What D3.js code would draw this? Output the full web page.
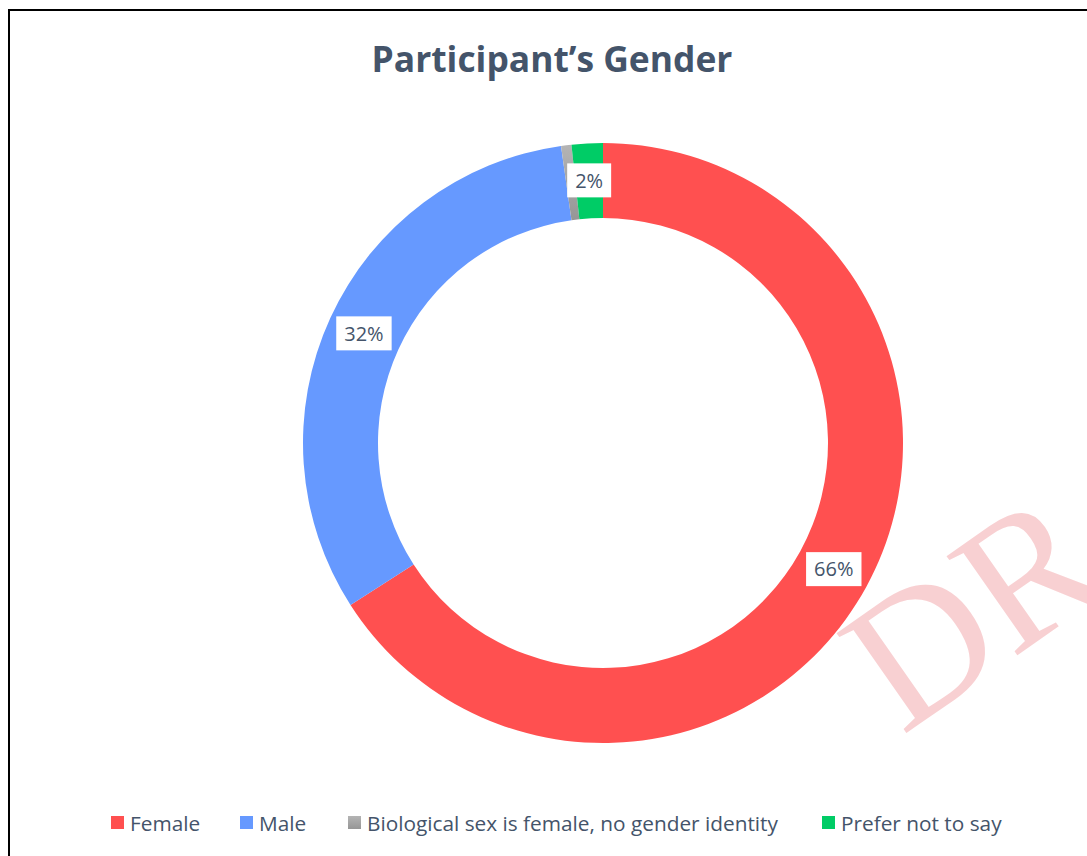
<!DOCTYPE html>
<html>
<head>
<meta charset="utf-8">
<script src="https://cdn.jsdelivr.net/npm/d3@7"></script>
<style>
  html, body { margin: 0; padding: 0; background: #fff; }
  svg { display: block; }
</style>
</head>
<body>
<svg id="chart" width="1087" height="856"></svg>
<script>
// Survey responses: participant gender (counts)
const categories = ["Female", "Male", "Biological sex is female, no gender identity", "Prefer not to say"];
const counts = [118, 57, 1, 3];
const labelled = [true, true, false, true];
const colors = ["#FF5050", "#6699FF", "#A5A5A5", "#00CC66"];

const W = 1087, H = 856;
const svg = d3.select("#chart");
const textColor = "#44546A";
const uiFont = "'Open Sans', 'Noto Sans', sans-serif";

// chart frame
svg.append("rect")
  .attr("x", 9).attr("y", 10)
  .attr("width", W + 20).attr("height", H + 20)
  .attr("fill", "#fff").attr("stroke", "#000").attr("stroke-width", 2);

// gradient for the grey slice
const defs = svg.append("defs");
const g1 = defs.append("linearGradient").attr("id", "greyGrad")
  .attr("x1", "0").attr("y1", "0").attr("x2", "0").attr("y2", "1");
g1.append("stop").attr("offset", "0%").attr("stop-color", "#B4B4B4");
g1.append("stop").attr("offset", "100%").attr("stop-color", "#969696");

// title
svg.append("text")
  .attr("x", 552).attr("y", 72)
  .attr("text-anchor", "middle")
  .attr("font-family", uiFont)
  .attr("font-weight", 700)
  .attr("font-size", 35.4)
  .attr("fill", textColor)
  .text("Participant\u2019s Gender");

// donut
const cx = 603, cy = 443, rOuter = 300, rInner = 225;
const total = d3.sum(counts);
const data = categories.map((c, i) => ({ cat: c, value: counts[i], labelled: labelled[i], color: colors[i] }));
const pie = d3.pie().value(d => d.value).sort(null);
const arc = d3.arc().innerRadius(rInner).outerRadius(rOuter);
const labelArc = d3.arc().innerRadius((rInner + rOuter) / 2 + 0.5).outerRadius((rInner + rOuter) / 2 + 0.5);
const arcs = pie(data);

const gDonut = svg.append("g").attr("transform", `translate(${cx},${cy})`);
gDonut.selectAll("path.slice")
  .data(arcs)
  .join("path")
  .attr("class", "slice")
  .attr("d", arc)
  .attr("fill", (d, i) => i === 2 ? "url(#greyGrad)" : d.data.color);

// percentage labels in white boxes
const fmt = d3.format(".0%");
const lab = gDonut.selectAll("g.lab")
  .data(arcs.filter(d => d.data.labelled))
  .join("g")
  .attr("class", "lab")
  .attr("transform", d => `translate(${labelArc.centroid(d)})`);
lab.append("rect").attr("fill", "#fff");
lab.append("text")
  .attr("text-anchor", "middle")
  .attr("dy", "0.36em")
  .attr("font-family", uiFont)
  .attr("font-size", 20)
  .attr("fill", textColor)
  .text(d => fmt(d.data.value / total));
lab.each(function () {
  const t = d3.select(this).select("text").node();
  const w = t.getComputedTextLength();
  d3.select(this).select("rect")
    .attr("x", -w / 2 - 8).attr("y", -17)
    .attr("width", w + 16).attr("height", 34);
});

// watermark
svg.append("text")
  .attr("transform", "translate(902,736) rotate(-35)")
  .attr("font-family", "'Liberation Serif', 'Times New Roman', serif")
  .attr("font-size", 186)
  .attr("fill", "#F8D0D2")
  .text("DRAFT");

// legend
const legendX = [111, 240, 348, 822];
const legendY = 823;
const leg = svg.append("g").selectAll("g")
  .data(data)
  .join("g")
  .attr("transform", (d, i) => `translate(${legendX[i]},${legendY})`);
leg.append("rect")
  .attr("x", 0).attr("y", -7)
  .attr("width", 13).attr("height", 13)
  .attr("fill", (d, i) => i === 2 ? "url(#greyGrad)" : d.color);
leg.append("text")
  .attr("x", 19).attr("dy", "0.36em")
  .attr("font-family", uiFont)
  .attr("font-size", 20.8)
  .attr("fill", textColor)
  .text(d => d.cat);
</script>
</body>
</html>
